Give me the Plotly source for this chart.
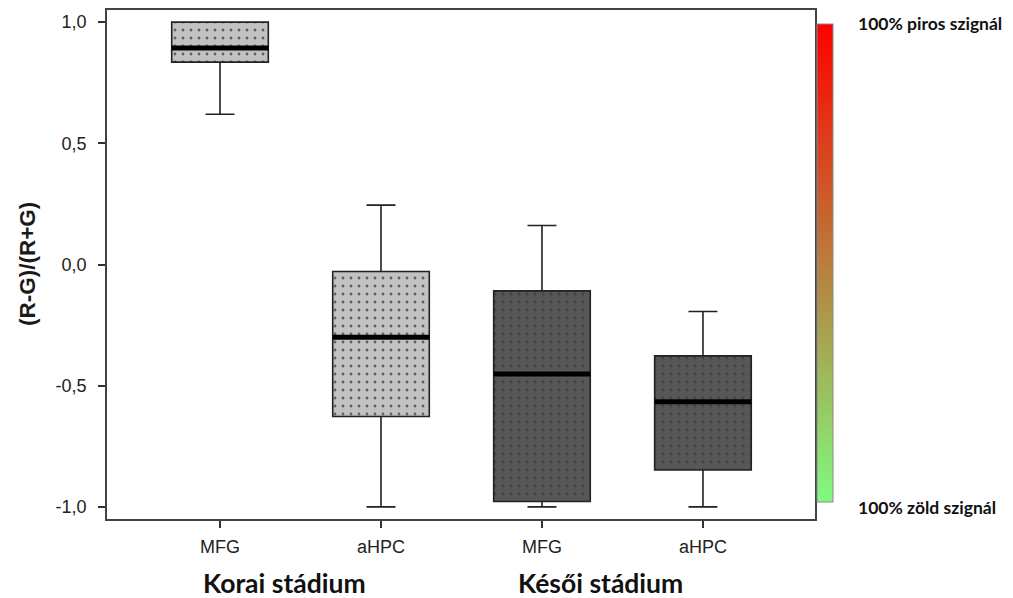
import plotly.graph_objects as go

# ---------------- data ----------------
categories = ["MFG", "aHPC", "MFG", "aHPC"]
groups = ["Korai stádium", "Késői stádium"]
positions = [1, 2, 3, 4]
q1_vals = [0.835, -0.627, -0.978, -0.848]
median_vals = [0.893, -0.300, -0.452, -0.566]
q3_vals = [1.000, -0.029, -0.109, -0.377]
lower_whisker = [0.620, -1.000, -1.000, -1.000]
upper_whisker = [1.000, 0.245, 0.161, -0.194]
y_ticks = [-1.0, -0.5, 0.0, 0.5, 1.0]
y_tick_labels = ["-1,0", "-0,5", "0,0", "0,5", "1,0"]
scale_labels = ["100% piros szignál", "100% zöld szignál"]

# ---------------- styles ----------------
fill_colors = ["#c2c2c2", "#c2c2c2", "#575757", "#575757"]
dot_colors = ["#000000", "#000000", "#2e2e2e", "#2e2e2e"]
BOX_W = 0.6

W, H = 1013, 598
ML, MR, MT, MB = 107, 198, 10, 79
PW, PH = W - ML - MR, H - MT - MB


def px(xp):
    return (xp - ML) / PW


def py(yp):
    return (H - MB - yp) / PH


fig = go.Figure()

# box bodies with dot pattern (one trace per box so each keeps its colours)
for i, p in enumerate(positions):
    fig.add_trace(go.Bar(
        x=[p],
        y=[q3_vals[i] - q1_vals[i]],
        base=[q1_vals[i]],
        width=BOX_W,
        marker=dict(
            color=fill_colors[i],
            line=dict(width=0),
            pattern=dict(shape=".", fgcolor=dot_colors[i],
                         size=8, solidity=0.1, fillmode="overlay"),
        ),
        hoverinfo="skip",
        showlegend=False,
    ))

# box outlines + whiskers
for i, p in enumerate(positions):
    fig.add_trace(go.Box(
        x=[p],
        q1=[q1_vals[i]],
        median=[median_vals[i]],
        q3=[q3_vals[i]],
        lowerfence=[lower_whisker[i]],
        upperfence=[upper_whisker[i]],
        width=BOX_W,
        whiskerwidth=0.3,
        fillcolor="rgba(0,0,0,0)",
        line=dict(color="#222222", width=1.6),
        boxpoints=False,
        showlegend=False,
        hoverinfo="skip",
    ))

# thick median lines
for i, p in enumerate(positions):
    fig.add_trace(go.Scatter(
        x=[p - BOX_W / 2, p + BOX_W / 2],
        y=[median_vals[i], median_vals[i]],
        mode="lines",
        line=dict(color="#000000", width=5),
        hoverinfo="skip",
        showlegend=False,
    ))

# colour scale bar (red = 100% red signal, green = 100% green signal)
fig.add_trace(go.Scatter(
    x=[2], y=[0], mode="markers",
    marker=dict(
        size=1, opacity=0,
        color=[0], cmin=-1, cmax=1,
        colorscale=[[0, "rgb(128,250,128)"], [0.5, "rgb(185,125,60)"], [1, "rgb(255,0,0)"]],
        showscale=True,
        colorbar=dict(
            thickness=16, thicknessmode="pixels",
            len=478, lenmode="pixels",
            x=px(817), xanchor="left", xpad=0,
            y=py(263), yanchor="middle", ypad=0,
            outlinewidth=1, outlinecolor="#8a8a8a",
            showticklabels=False, ticks="",
        ),
    ),
    hoverinfo="skip",
    showlegend=False,
))

fig.update_layout(
    width=W, height=H,
    margin=dict(l=ML, r=MR, t=MT, b=MB, autoexpand=False),
    paper_bgcolor="white",
    plot_bgcolor="white",
    barmode="overlay",
    boxmode="overlay",
    showlegend=False,
    font=dict(family="Arial, Liberation Sans", color="#222222"),
)

fig.update_xaxes(
    range=[0.298, 4.696],
    tickmode="array", tickvals=positions, ticktext=categories,
    ticks="outside", ticklen=7, tickwidth=1.5, tickcolor="#333333",
    tickfont=dict(size=18, family="Arial, Liberation Sans", color="#222222"),
    showline=True, linecolor="#444444", linewidth=1.5, mirror=True,
    showgrid=False, zeroline=False,
    ticklabelstandoff=4,
)
fig.update_yaxes(
    range=[-1.05, 1.05],
    tickmode="array", tickvals=y_ticks, ticktext=y_tick_labels,
    ticks="outside", ticklen=7, tickwidth=1.5, tickcolor="#333333",
    tickfont=dict(size=18, family="Arial, Liberation Sans", color="#222222"),
    showline=True, linecolor="#444444", linewidth=1.5, mirror=True,
    showgrid=False, zeroline=False,
    ticklabelstandoff=8,
)

# y axis title
fig.add_annotation(
    text="<b>(R-G)/(R+G)</b>", textangle=-90,
    x=px(27), y=py(264), xref="paper", yref="paper",
    xanchor="center", yanchor="middle", showarrow=False,
    font=dict(size=22.5, family="Arial, Liberation Sans", color="#1a1a1a"),
)

# group labels
group_x = [284, 600]
for g, gx in zip(groups, group_x):
    fig.add_annotation(
        text="<b>" + g + "</b>",
        x=px(gx), y=py(583), xref="paper", yref="paper",
        xanchor="center", yanchor="middle", showarrow=False,
        font=dict(size=26.5, family="Lato, Noto Sans", color="#111111"),
    )

# colour scale labels
for lab, ly in zip(scale_labels, [23, 507]):
    fig.add_annotation(
        text="<b>" + lab + "</b>",
        x=px(856), y=py(ly), xref="paper", yref="paper",
        xanchor="left", yanchor="middle", showarrow=False,
        font=dict(size=17.5, family="Lato, Noto Sans", color="#111111"),
    )

fig.write_html("out.html", config={"displayModeBar": False},
               post_script="document.body.style.margin='0';")
